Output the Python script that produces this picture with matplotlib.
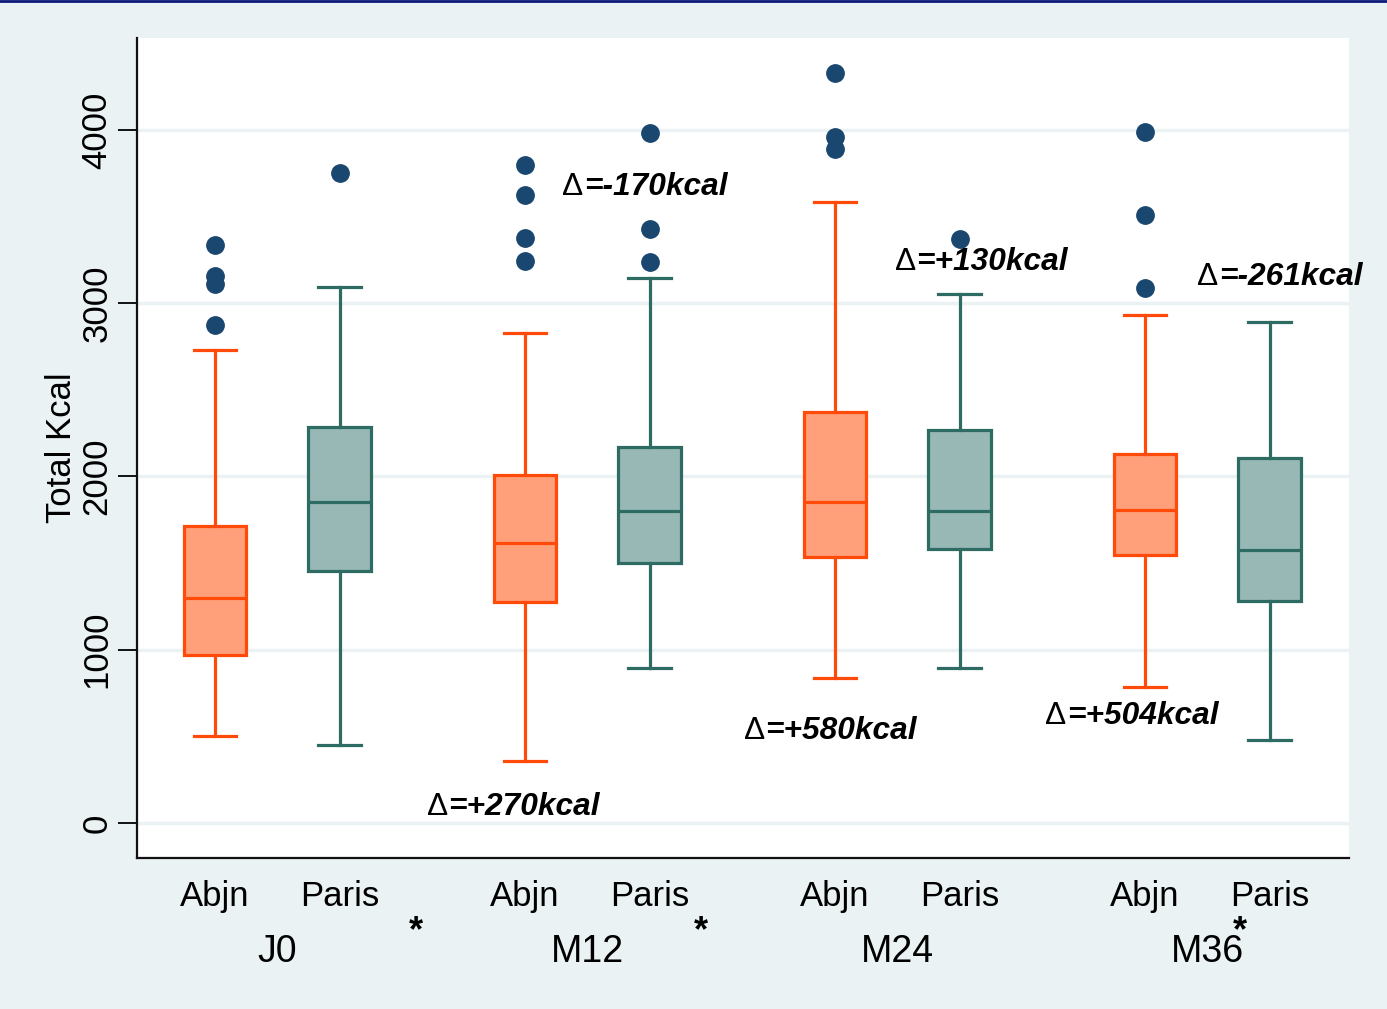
import matplotlib
matplotlib.use("Agg")
import matplotlib.pyplot as plt
from matplotlib.lines import Line2D

# values (kcal)
groups = ["J0", "M12", "M24", "M36"]
cities = ["Abjn", "Paris"]
whislo = [502, 450, 358, 895, 837, 895, 785, 479]
q1 = [970, 1455, 1276, 1501, 1535, 1582, 1547, 1281]
med = [1299, 1853, 1616, 1801, 1853, 1801, 1807, 1576]
q3 = [1714, 2286, 2009, 2170, 2372, 2268, 2130, 2107]
whishi = [2730, 3094, 2828, 3146, 3584, 3053, 2932, 2892]
fliers = [
    [2874, 3111, 3157, 3336],
    [3752],
    [3244, 3377, 3625, 3798],
    [3238, 3429, 3983],
    [3890, 3960, 4329],
    [3371],
    [3088, 3509, 3988],
    [],
]
deltas = ["+270", "-170", "+580", "+130", "+504", "-261"]
delta_x = [1.70, 2.79, 4.25, 5.46, 6.67, 7.89]   # left edge of each label
delta_y = [95, 3673, 533, 3240, 620, 3154]
star_x = [1.61, 3.90, 8.23]

BG = "#EAF2F3"
ORANGE = "#FF4A0A"
ORANGE_FILL = "#FFA07A"
TEAL = "#2E6B62"
TEAL_FILL = "#97B8B4"
NAVY = "#1A476F"
GSTEP = 2.49

plt.rcParams['font.family'] = ['Liberation Sans', 'DejaVu Sans']

fig = plt.figure(figsize=(13.87, 10.09), dpi=100, facecolor=BG)
ax = fig.add_axes([0.0988, 0.1497, 0.8738, 0.8126])
ax.set_facecolor("white")

positions = []
stats = []
for i in range(8):
    g, c = divmod(i, 2)
    positions.append(g * GSTEP + c)
    stats.append(dict(whislo=whislo[i], q1=q1[i], med=med[i], q3=q3[i],
                      whishi=whishi[i], fliers=fliers[i]))

for i in range(8):
    col, fill = (ORANGE, ORANGE_FILL) if i % 2 == 0 else (TEAL, TEAL_FILL)
    ax.bxp([stats[i]], positions=[positions[i]], widths=0.5, patch_artist=True,
           capwidths=0.34,
           boxprops=dict(facecolor=fill, edgecolor=col, linewidth=2.3),
           medianprops=dict(color=col, linewidth=2.3),
           whiskerprops=dict(color=col, linewidth=2.3),
           capprops=dict(color=col, linewidth=2.3),
           flierprops=dict(marker='o', markerfacecolor=NAVY, markeredgecolor=NAVY,
                           markersize=12.5),
           zorder=3)

ax.set_xlim(-0.627, 9.108)
ax.set_ylim(-202, 4531)
ax.set_yticks([0, 1000, 2000, 3000, 4000])
ax.set_yticklabels(["0", "1000", "2000", "3000", "4000"], rotation=90,
                   va="center", fontsize=25)
ax.tick_params(axis='y', length=14, width=1.3, pad=3)
ax.yaxis.grid(True, color=BG, linewidth=2.5, zorder=0)
ax.set_axisbelow(True)
ax.set_ylabel("Total Kcal", fontsize=25)
ax.yaxis.set_label_coords(-0.049, 0.5)

ax.set_xticks(positions)
ax.set_xticklabels(cities * 4, fontsize=25)
ax.tick_params(axis='x', length=0, pad=16)

for g, name in enumerate(groups):
    ax.text(g * GSTEP + 0.5, -0.115, name, transform=ax.get_xaxis_transform(),
            ha="center", va="center", fontsize=27)

for x in star_x:
    ax.text(x, -0.09, "*", transform=ax.get_xaxis_transform(), ha="center",
            va="center", fontsize=26, fontweight="bold")

for d, x, y in zip(deltas, delta_x, delta_y):
    sym = ax.text(x, y, "\u0394", ha="left", va="center", fontsize=22.8,
                  clip_on=False, zorder=5)
    ax.annotate("=" + d + "kcal", xy=(1, 0.5), xycoords=sym, ha="left",
                va="center", fontsize=22.8, fontweight="bold",
                fontstyle="italic", annotation_clip=False, zorder=5)

for side in ["top", "right"]:
    ax.spines[side].set_visible(False)
for side in ["left", "bottom"]:
    ax.spines[side].set_linewidth(1.6)
    ax.spines[side].set_color("#111111")

fig.add_artist(Line2D([0, 1], [0.999, 0.999], transform=fig.transFigure,
                      color="#0A1A78", linewidth=2))

fig.savefig("out.png", dpi=100, facecolor=BG)
